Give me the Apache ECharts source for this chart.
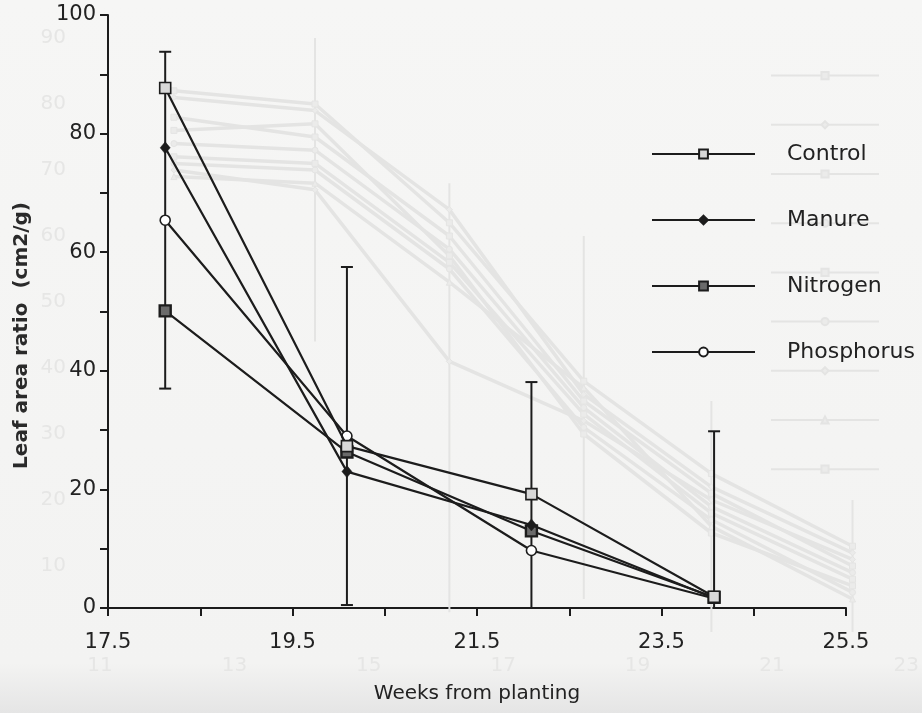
<!DOCTYPE html>
<html>
<head>
<meta charset="utf-8">
<title>Leaf area ratio</title>
<script src="https://cdn.jsdelivr.net/npm/echarts@6/dist/echarts.min.js"></script>
<style>
  html, body { margin: 0; padding: 0; background: #f4f4f3; }
  #chart { width: 922px; height: 713px; }
</style>
</head>
<body>
<div id="chart"></div>
<script>
// ---- Leaf area ratio by treatment ----
const weeks = [18.12, 20.09, 22.09, 24.07];
const control = [87.7, 27.3, 19.2, 1.9];
const manure = [77.6, 23.0, 14.0, 1.7];
const nitrogen = [50.1, 26.3, 13.0, 1.8];
const phosphorus = [65.4, 29.0, 9.7, 1.6];
const phosphorusErr = [28.4, 28.5, 28.4, 28.2];
const seriesNames = ['Control', 'Manure', 'Nitrogen', 'Phosphorus'];
const xTickLabels = ['17.5', '19.5', '21.5', '23.5', '25.5'];
const yTickLabels = ['0', '20', '40', '60', '80', '100'];
const xStart = 17.5;

// ---- faint show-through from the reverse side of the sheet ----
const backWeeks = [12.1, 14.2, 16.2, 18.2, 20.1, 22.2];
const backA = [82, 80, 62, 38, 24, 13];
const backB = [81, 79, 64, 36, 22, 12];
const backC = [78, 75, 60, 35, 21, 10];
const backD = [74, 73, 58, 34, 19, 9];
const backE = [72, 71, 56, 33, 18, 8];
const backF = [71, 70, 55, 31, 17, 6];
const backG = [70, 67, 41, 32, 20, 11];
const backH = [69, 68, 53, 37, 16, 5];
const backI = [76, 77, 57, 30, 15, 7];
const backErrLow = [null, 44, 3, 5, 0, 0];
const backErrHigh = [null, 90, 68, 60, 35, 20];
const backXTickLabels = ['11', '13', '15', '17', '19', '21', '23'];
const backYTickLabels = ['10', '20', '30', '40', '50', '60', '70', '80', '90'];

const INK = '#1c1c1c';
const FAINT = '#e4e4e3';
const FAINT_TEXT = '#e6e6e5';
const FONT = 'DejaVu Sans';

const pts = vals => weeks.map((w, i) => [w - xStart, vals[i]]);
const backPts = vals => backWeeks.map((w, i) => [w, vals[i]]);

function errorBar(color, width, half) {
  return function (params, api) {
    const x = api.value(0), lo = api.value(1), hi = api.value(2);
    const top = api.coord([x, hi]);
    const bot = api.coord([x, lo]);
    const style = { stroke: color, lineWidth: width };
    return {
      type: 'group',
      children: [
        { type: 'line', shape: { x1: top[0], y1: top[1], x2: bot[0], y2: bot[1] }, style },
        { type: 'line', shape: { x1: top[0] - half, y1: top[1], x2: top[0] + half, y2: top[1] }, style },
        { type: 'line', shape: { x1: bot[0] - half, y1: bot[1], x2: bot[0] + half, y2: bot[1] }, style }
      ]
    };
  };
}

// marker look and stacking order of each treatment
const markerStyles = {
  Control:    { z: 13, symbol: 'rect',    symbolSize: 11, itemStyle: { color: '#d8d8d8', borderColor: INK, borderWidth: 1.6 } },
  Manure:     { z: 11, symbol: 'diamond', symbolSize: [10, 12], itemStyle: { color: INK, borderColor: INK, borderWidth: 0.5 } },
  Nitrogen:   { z: 10, symbol: 'rect',    symbolSize: 11, itemStyle: { color: '#6a6a6a', borderColor: INK, borderWidth: 2.4 } },
  Phosphorus: { z: 12, symbol: 'circle',  symbolSize: 10, itemStyle: { color: '#ffffff', borderColor: INK, borderWidth: 1.6 } }
};
const valuesByName = { Control: control, Manure: manure, Nitrogen: nitrogen, Phosphorus: phosphorus };

const mainSeries = seriesNames.map(name => Object.assign({
  name,
  type: 'line',
  xAxisIndex: 1,
  yAxisIndex: 1,
  data: pts(valuesByName[name]),
  lineStyle: { color: INK, width: 2.2 },
  showAllSymbol: true,
  silent: true,
  animation: false
}, markerStyles[name]));

const backNames = ['b1', 'b2', 'b3', 'b4', 'b5', 'b6', 'b7', 'b8', 'b9'];
const backValues = [backA, backB, backC, backD, backE, backF, backG, backH, backI];
const backSymbols = ['rect', 'diamond', 'rect', 'circle', 'rect', 'circle', 'diamond', 'triangle', 'rect'];
const backSeries = backNames.map((name, i) => ({
  name,
  type: 'line',
  xAxisIndex: 0,
  yAxisIndex: 0,
  data: backPts(backValues[i]),
  symbol: backSymbols[i],
  symbolSize: 6,
  itemStyle: { color: '#ebebea', borderColor: FAINT, borderWidth: 1 },
  lineStyle: { color: FAINT, width: 3.5 },
  z: 1,
  silent: true,
  animation: false
}));

const option = {
  animation: false,
  backgroundColor: {
    type: 'linear', x: 0, y: 0, x2: 0, y2: 1,
    colorStops: [
      { offset: 0, color: '#f6f6f5' },
      { offset: 0.93, color: '#f3f3f2' },
      { offset: 1, color: '#e5e5e5' }
    ]
  },
  textStyle: { fontFamily: FONT },
  grid: [
    { left: 100, right: 0, top: 38, bottom: 81 },
    { left: 108, right: 76, top: 15, bottom: 105 }
  ],
  legend: [
    {
      data: seriesNames,
      orient: 'vertical',
      left: 646,
      top: 138,
      itemWidth: 103,
      itemHeight: 11,
      itemGap: 44,
      textStyle: { fontFamily: FONT, fontSize: 22, color: '#222', padding: [0, 0, 0, 27] },
      selectedMode: false,
      z: 8
    },
    {
      data: backNames,
      orient: 'vertical',
      left: 765,
      top: 66,
      itemWidth: 108,
      itemHeight: 9,
      itemGap: 40,
      formatter: () => '',
      textStyle: { fontSize: 1 },
      selectedMode: false,
      z: 1
    }
  ],
  xAxis: [
    {
      gridIndex: 0,
      type: 'value',
      min: 11,
      max: 23,
      interval: 1,
      axisLine: { show: false },
      axisTick: { show: false },
      splitLine: { show: false },
      axisLabel: {
        color: FAINT_TEXT, fontSize: 20, fontFamily: FONT, margin: 24,
        formatter: v => backXTickLabels.includes(String(v)) ? String(v) : ''
      }
    },
    {
      gridIndex: 1,
      type: 'value',
      min: 0,
      max: 8,
      interval: 1,
      axisLine: { lineStyle: { color: INK, width: 2 } },
      axisTick: { length: 8, lineStyle: { color: INK, width: 2 } },
      splitLine: { show: false },
      axisLabel: {
        color: '#222', fontSize: 21, fontFamily: FONT, margin: 24,
        formatter: v => {
          const t = (v + xStart).toFixed(1);
          return xTickLabels.includes(t) ? t : '';
        }
      },
      name: 'Weeks from planting',
      nameLocation: 'middle',
      nameGap: 76,
      nameTextStyle: { color: '#222', fontSize: 20, fontFamily: FONT }
    }
  ],
  yAxis: [
    {
      gridIndex: 0,
      type: 'value',
      min: 0,
      max: 90,
      interval: 10,
      axisLine: { show: false },
      axisTick: { show: false },
      splitLine: { show: false },
      axisLabel: {
        color: FAINT_TEXT, fontSize: 20, fontFamily: FONT, margin: 34,
        formatter: v => backYTickLabels.includes(String(v)) ? String(v) : ''
      }
    },
    {
      gridIndex: 1,
      type: 'value',
      min: 0,
      max: 100,
      interval: 10,
      axisLine: { lineStyle: { color: INK, width: 2 } },
      axisTick: { length: 8, lineStyle: { color: INK, width: 2 } },
      splitLine: { show: false },
      axisLabel: {
        color: '#222', fontSize: 21, fontFamily: FONT, margin: 12,
        formatter: v => yTickLabels.includes(String(v)) ? String(v) : ''
      },
      name: 'Leaf area ratio  (cm2/g)',
      nameLocation: 'middle',
      nameGap: 76,
      nameTextStyle: { color: '#2a2a2a', fontSize: 20, fontWeight: 'bold', fontFamily: FONT, padding: [0, 48, 0, 0] }
    }
  ],
  series: [
    ...backSeries,
    {
      type: 'custom',
      xAxisIndex: 0,
      yAxisIndex: 0,
      renderItem: errorBar(FAINT, 2, 0),
      data: backWeeks.map((w, i) => [w, backErrLow[i], backErrHigh[i]]).filter(d => d[1] !== null),
      clip: true,
      z: 1,
      silent: true
    },
    {
      type: 'custom',
      xAxisIndex: 1,
      yAxisIndex: 1,
      renderItem: errorBar(INK, 2, 6),
      data: weeks.map((w, i) => [w - xStart, phosphorus[i] - phosphorusErr[i], phosphorus[i] + phosphorusErr[i]]),
      clip: true,
      z: 5,
      silent: true
    },
    ...mainSeries
  ]
};

const chart = echarts.init(document.getElementById('chart'), null, { renderer: 'canvas' });
chart.setOption(option);
</script>
</body>
</html>
